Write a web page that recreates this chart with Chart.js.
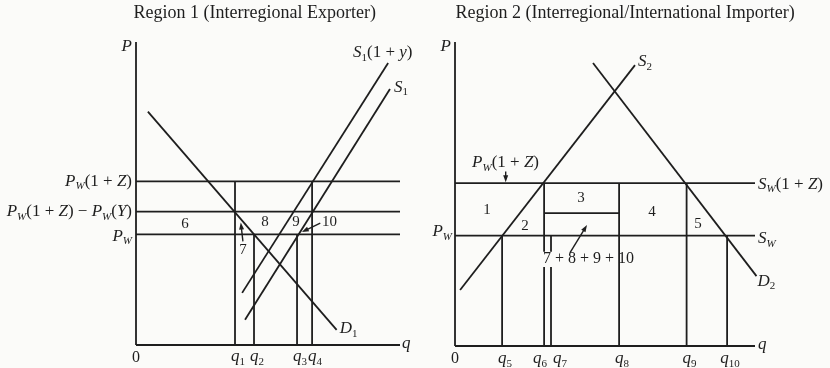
<!DOCTYPE html>
<html lang="en">
<head>
<meta charset="UTF-8">
<title>Interregional trade</title>
<script src="https://cdn.jsdelivr.net/npm/chart.js"></script>
<style>
  body { margin: 0; background: #fbfbf9; }
  .wrap { display: flex; width: 830px; height: 368px; }
  canvas { display: block; }
</style>
</head>
<body>
<div class="wrap">
  <canvas id="region1" width="415" height="368"></canvas>
  <canvas id="region2" width="415" height="368"></canvas>
</div>
<script>
// Region 1 (interregional exporter)
const r1Prices = [54, 44, 36.5];              // P_W(1+Z), P_W(1+Z)-P_W(Y), P_W
const r1PriceLabels = ['P_W(1 + Z)', 'P_W(1 + Z) − P_W(Y)', 'P_W'];
const r1Q = [37.5, 44.7, 61, 66.7];
const r1QLabels = ['q_1', 'q_2', 'q_3', 'q_4'];
const r1QTop = [54, 36.5, 36.5, 54];          // price where each drop line starts
const r1D1 = [[4.5, 77], [76, 5]];
const r1S1y = [[40.2, 17.2], [95.5, 93.1]];
const r1S1 = [[41.3, 8.3], [96.2, 84.5]];
const r1Areas = ['6', '7', '8', '9', '10'];

// Region 2 (interregional/international importer)
const r2Prices = [53.6, 36.3];                // S_W(1+Z), S_W
const r2PriceLabels = ['S_W(1 + Z)', 'S_W'];
const r2Q = [15.7, 29.7, 32, 54.7, 77.2, 90.7];
const r2QLabels = ['q_5', 'q_6', 'q_7', 'q_8', 'q_9', 'q_{10}'];
const r2QTop = [36.3, 53.6, 36.3, 53.6, 53.6, 36.3];
const r2Box3 = 43.7;                          // lower edge of area 3
const r2S2 = [[1.7, 18.4], [60, 92.4]];
const r2D2 = [[46, 93.1], [100.5, 23]];
const r2Areas = ['1', '2', '3', '4', '5', '7 + 8 + 9 + 10'];

const ink = '#1e1e1e';
const serif = '"Liberation Serif", "Times New Roman", serif';

function parseRich(s) {
    var out = [];
    for (var i = 0; i < s.length; i++) {
        var c = s[i], sub = false;
        if (c === '_') {
            sub = true;
            i++;
            if (s[i] === '{') {
                var j = s.indexOf('}', i);
                c = s.slice(i + 1, j);
                i = j;
            } else {
                c = s[i];
            }
        }
        out.push({ c: c, sub: sub });
    }
    return out;
}

function drawRich(ctx, s, x, y, align, size, plain) {
    var parts = parseRich(s).map(p => {
        var italic = !plain && /[A-Za-z]/.test(p.c);
        var fs = p.sub ? Math.round(size * 0.62) : size;
        var font = (italic ? 'italic ' : '') + fs + 'px ' + serif;
        ctx.font = font;
        return { c: p.c, sub: p.sub, font: font, w: ctx.measureText(p.c).width };
    });
    var total = parts.reduce((a, p) => a + p.w, 0);
    var cx = align === 'right' ? x - total : align === 'left' ? x : x - total / 2;
    ctx.textBaseline = 'middle';
    ctx.textAlign = 'left';
    parts.forEach(p => {
        ctx.font = p.font;
        ctx.fillText(p.c, cx, y + (p.sub ? size * 0.3 : 0));
        cx += p.w;
    });
}

// text and arrows placed through the chart scales
const notesPlugin = {
    id: 'notes',
    afterDatasetsDraw(chart, args, opts) {
        var ctx = chart.ctx, xs = chart.scales.x, ys = chart.scales.y;
        ctx.save();
        ctx.fillStyle = ink;
        ctx.strokeStyle = ink;
        (opts.arrows || []).forEach(a => {
            var x0 = xs.getPixelForValue(a.from[0]), y0 = ys.getPixelForValue(a.from[1]);
            var x1 = xs.getPixelForValue(a.to[0]), y1 = ys.getPixelForValue(a.to[1]);
            var ang = Math.atan2(y1 - y0, x1 - x0);
            ctx.lineWidth = 1.4;
            ctx.beginPath();
            ctx.moveTo(x0, y0);
            ctx.lineTo(x1 - 4 * Math.cos(ang), y1 - 4 * Math.sin(ang));
            ctx.stroke();
            ctx.beginPath();
            ctx.moveTo(x1, y1);
            ctx.lineTo(x1 - 7 * Math.cos(ang) + 2.5 * Math.sin(ang), y1 - 7 * Math.sin(ang) - 2.5 * Math.cos(ang));
            ctx.lineTo(x1 - 7 * Math.cos(ang) - 2.5 * Math.sin(ang), y1 - 7 * Math.sin(ang) + 2.5 * Math.cos(ang));
            ctx.closePath();
            ctx.fill();
        });
        (opts.texts || []).forEach(t => {
            drawRich(ctx, t.t, xs.getPixelForValue(t.x) + (t.dx || 0), ys.getPixelForValue(t.y) + (t.dy || 0),
                t.align || 'center', t.size || 17, t.plain);
        });
        ctx.restore();
    }
};

function lineSet(pts) {
    return {
        data: pts.map(p => ({ x: p[0], y: p[1] })),
        showLine: true,
        borderColor: ink,
        borderWidth: 1.8,
        pointRadius: 0,
        clip: false
    };
}

function makeChart(id, pad, segments, notes) {
    return new Chart(document.getElementById(id), {
        type: 'scatter',
        data: { datasets: segments.map(lineSet) },
        options: {
            responsive: false,
            animation: false,
            devicePixelRatio: 1,
            events: [],
            layout: { padding: pad },
            scales: {
                x: { type: 'linear', min: 0, max: 100, display: false },
                y: { type: 'linear', min: 0, max: 100, display: false }
            },
            plugins: {
                legend: { display: false },
                tooltip: { enabled: false },
                notes: notes
            }
        },
        plugins: [notesPlugin]
    });
}

// ---------- Region 1 ----------
var seg1 = [
    [[0, 0], [0, 100]],
    [[0, 0], [100, 0]],
    r1D1, r1S1y, r1S1
];
r1Prices.forEach(p => seg1.push([[0, p], [100, p]]));
r1Q.forEach((q, i) => seg1.push([[q, 0], [q, r1QTop[i]]]));

var text1 = [
    { t: 'Region 1 (Interregional Exporter)', x: 45, y: 109.4, size: 18, plain: true },
    { t: 'P', x: 0, y: 98.4, align: 'right', dx: -4 },
    { t: '0', x: 0, y: 0, dy: 13, size: 16, plain: true },
    { t: 'q', x: 100, y: 0, align: 'left', dx: 2, dy: -1 },
    { t: 'S_1(1 + y)', x: 82.2, y: 96.4, align: 'left' },
    { t: 'S_1', x: 97.7, y: 85, align: 'left' },
    { t: 'D_1', x: r1D1[1][0], y: r1D1[1][1], align: 'left', dx: 3, dy: -1 },
    { t: r1Areas[0], x: 18.6, y: 39.9, size: 15 },
    { t: r1Areas[1], x: 40.5, y: 31.2, size: 15 },
    { t: r1Areas[2], x: 48.9, y: 40.6, size: 15 },
    { t: r1Areas[3], x: 60.6, y: 40.6, size: 15 },
    { t: r1Areas[4], x: 70.5, y: 40.6, align: 'left', size: 15 }
];
r1PriceLabels.forEach((s, i) => text1.push({ t: s, x: 0, y: r1Prices[i], align: 'right', dx: -4, dy: i === 2 ? 2 : 0 }));
r1QLabels.forEach((s, i) => text1.push({ t: s, x: r1Q[i], y: 0, dx: 3, dy: 12 }));

makeChart('region1', { left: 136, right: 15, top: 42, bottom: 23 }, seg1, {
    texts: text1,
    arrows: [
        { from: [40.5, 34.2], to: [39.7, 40.4] },
        { from: [69.8, 40.2], to: [62.8, 37.3] }
    ]
});

// ---------- Region 2 ----------
var gapTop = 31, gapBottom = 26;   // break in q6/q7 lines for the 7+8+9+10 label
var seg2 = [
    [[0, 0], [0, 100]],
    [[0, 0], [100, 0]],
    r2S2, r2D2,
    [[r2Q[1], r2Box3], [r2Q[3], r2Box3]]
];
r2Prices.forEach(p => seg2.push([[0, p], [100, p]]));
r2Q.forEach((q, i) => {
    if (i === 1 || i === 2) {
        seg2.push([[q, 0], [q, gapBottom]]);
        seg2.push([[q, gapTop], [q, r2QTop[i]]]);
    } else {
        seg2.push([[q, 0], [q, r2QTop[i]]]);
    }
});

var text2 = [
    { t: 'Region 2 (Interregional/International Importer)', x: 56.7, y: 109.4, size: 18, plain: true },
    { t: 'P', x: 0, y: 98.4, align: 'right', dx: -4 },
    { t: '0', x: 0, y: 0, dy: 13, size: 16, plain: true },
    { t: 'q', x: 100, y: 0, align: 'left', dx: 3, dy: -1 },
    { t: 'S_2', x: 61, y: 93.5, align: 'left' },
    { t: 'D_2', x: r2D2[1][0], y: r2D2[1][1], align: 'left', dx: 1, dy: 5 },
    { t: 'P_W(1 + Z)', x: 5.7, y: 60.2, align: 'left' },
    { t: 'P_W', x: 0, y: r2Prices[1], align: 'right', dx: -3, dy: -4 },
    { t: r2Areas[0], x: 10.7, y: 44.7, size: 15 },
    { t: r2Areas[1], x: 23.3, y: 39.5, size: 15 },
    { t: r2Areas[2], x: 42, y: 48.7, size: 15 },
    { t: r2Areas[3], x: 65.7, y: 44.1, size: 15 },
    { t: r2Areas[4], x: 81, y: 40.1, size: 15 },
    { t: r2Areas[5], x: 44.5, y: 28.6, size: 16, plain: true }
];
r2PriceLabels.forEach((s, i) => text2.push({ t: s, x: 100, y: r2Prices[i], align: 'left', dx: 3, dy: i === 1 ? 3 : 1 }));
var qShift2 = [3, -4, 9, 3, 3, 3];   // q6 sits left of its line, q7 right of its line
r2QLabels.forEach((s, i) => text2.push({ t: s, x: r2Q[i], y: 0, dx: qShift2[i], dy: 13 }));

makeChart('region2', { left: 40, right: 75, top: 42, bottom: 22 }, seg2, {
    texts: text2,
    arrows: [
        { from: [16.9, 57.4], to: [16.9, 53.9] },
        { from: [38.3, 30.6], to: [44, 39.8] }
    ]
});
</script>
</body>
</html>
